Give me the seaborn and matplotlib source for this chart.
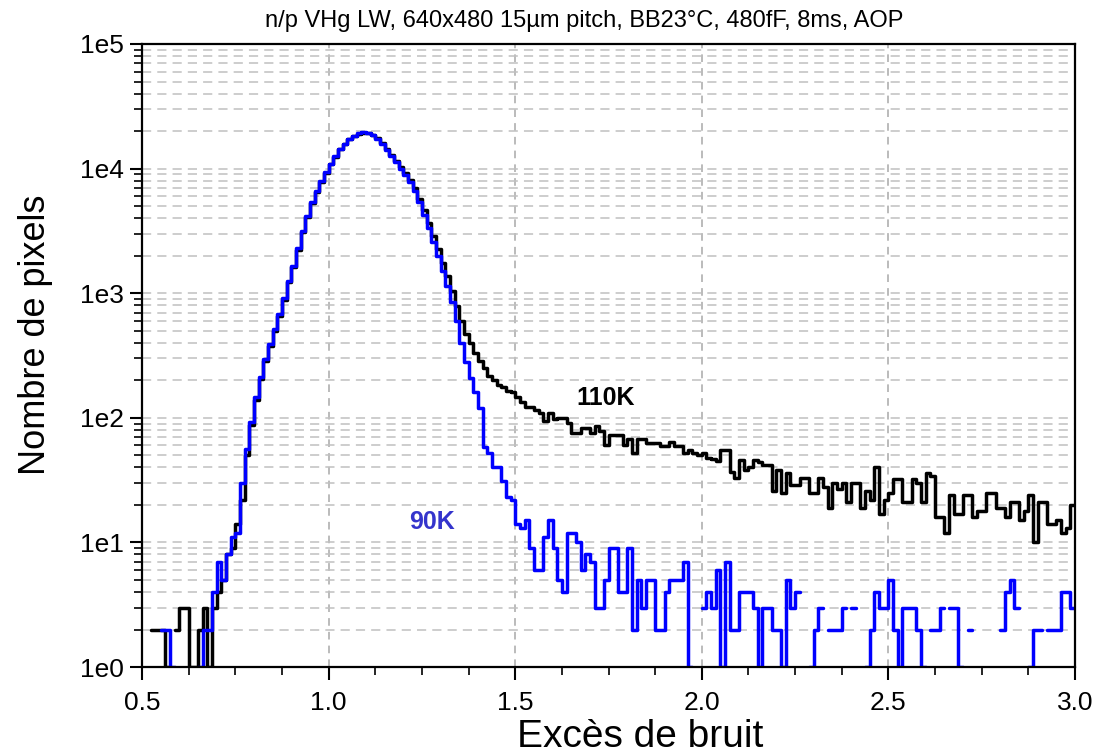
import numpy as np
import pandas as pd
import matplotlib
matplotlib.use("Agg")
import matplotlib.pyplot as plt
from matplotlib.ticker import MultipleLocator, LogLocator, FuncFormatter, NullFormatter
import seaborn as sns

# histogram bins: 0.5 .. 3.0, width 0.0125
x_min, x_max, n_bins = 0.5, 3.0, 200

# pixel counts per bin, 110 K (black)
counts_110k = [
    0, 0, 2, 2, 2, 1, 0, 2, 3, 3,
    1, 1, 2, 3, 1, 3, 4, 5, 8, 9,
    14, 22, 50, 88, 140, 205, 285, 375, 495, 655,
    880, 1220, 1610, 2230, 3080, 4070, 5250, 6470, 7800, 9200,
    10800, 12450, 14300, 15700, 17250, 18300, 19100, 19450, 19300, 18700,
    17550, 16050, 14400, 12900, 11550, 10350, 9300, 8150, 7000, 5750,
    4650, 3650, 2880, 2270, 1760, 1370, 1040, 790, 600, 470,
    400, 330, 285, 250, 215, 200, 185, 178, 165, 160,
    148, 135, 121, 121, 115, 110, 95, 110, 97, 100,
    100, 91, 76, 76, 83, 83, 76, 86, 79, 60,
    73, 73, 73, 60, 68, 52, 67, 67, 63, 63,
    63, 59, 59, 64, 59, 59, 52, 55, 52, 50,
    52, 48, 47, 45, 55, 55, 37, 33, 46, 38,
    40, 46, 44, 42, 42, 26, 38, 25, 36, 29,
    29, 33, 33, 25, 25, 33, 28, 19, 30, 27,
    30, 21, 30, 30, 19, 26, 22, 40, 17, 22,
    25, 32, 32, 21, 21, 32, 30, 21, 36, 34,
    16, 16, 12, 24, 17, 17, 24, 24, 16, 18,
    18, 25, 25, 19, 19, 16, 21, 21, 15, 18,
    24, 10, 21, 21, 14, 14, 15, 12, 13, 20,
]

# pixel counts per bin, 90 K (blue)
counts_90k = [
    0, 0, 0, 0, 2, 2, 1, 0, 0, 0,
    0, 0, 1, 2, 2, 4, 7, 5, 8, 11,
    12, 30, 56, 93, 148, 214, 295, 389, 513, 676,
    912, 1259, 1660, 2291, 3162, 4169, 5370, 6607, 7943, 9333,
    10965, 12589, 14454, 15849, 17378, 18408, 19187, 19498, 19275, 18621,
    17378, 15849, 14125, 12589, 11220, 10000, 8913, 7762, 6607, 5370,
    4266, 3311, 2570, 1995, 1514, 1148, 851, 603, 398, 282,
    209, 160, 120, 58, 52, 40, 40, 31, 23, 22,
    14, 13, 15, 9, 6, 6, 11, 15, 9, 5,
    4, 12, 12, 10, 6, 8, 7, 3, 3, 5,
    9, 9, 4, 4, 9, 2, 5, 3, 5, 5,
    2, 2, 4, 5, 5, 5, 7, 1, 0, 0,
    3, 4, 3, 6, 1, 7, 2, 2, 4, 4,
    4, 3, 1, 3, 3, 2, 2, 1, 5, 3,
    4, 0, 0, 1, 2, 3, 0, 2, 2, 2,
    3, 0, 3, 0, 0, 1, 2, 4, 3, 3,
    5, 2, 1, 3, 3, 3, 2, 1, 0, 2,
    2, 3, 0, 3, 3, 1, 0, 2, 0, 0,
    0, 0, 0, 0, 2, 4, 5, 3, 0, 0,
    1, 2, 2, 0, 2, 2, 2, 4, 4, 3,
]

title = "n/p VHg LW, 640x480 15\u00b5m pitch, BB23\u00b0C, 480fF, 8ms, AOP"
series_labels = ["110K", "90K"]

sns.set_theme(style="ticks")
plt.rcParams["font.family"] = ["Liberation Sans", "DejaVu Sans"]
plt.rcParams["text.color"] = "#000000"

edges = np.linspace(x_min, x_max, n_bins + 1)
centers = (edges[:-1] + edges[1:]) / 2
df = pd.DataFrame({"center": centers, "n110": counts_110k, "n90": counts_90k})

fig = plt.figure(figsize=(11.02, 7.56), dpi=100)
ax = fig.add_axes([0.1289, 0.1177, 0.8466, 0.8241])

sns.histplot(data=df, x="center", weights="n110", bins=list(edges), element="step",
             fill=False, color="#000000", lw=2.5, ax=ax)
sns.histplot(data=df, x="center", weights="n90", bins=list(edges), element="step",
             fill=False, color="#0000ff", lw=2.5, ax=ax)

# zero bins leave gaps, as in the original plot
ax.set_yscale("log", nonpositive="mask")
ax.set_xlim(x_min, x_max)
ax.set_ylim(1, 1e5)
ax.set_xlabel("")
ax.set_ylabel("")

ax.xaxis.set_major_locator(MultipleLocator(0.5))
ax.xaxis.set_minor_locator(MultipleLocator(0.125))
ax.xaxis.set_major_formatter(FuncFormatter(lambda v, _: f"{v:.1f}"))
ax.yaxis.set_major_locator(LogLocator(base=10, numticks=10))
ax.yaxis.set_minor_locator(LogLocator(base=10, subs=range(2, 10), numticks=20))
ax.yaxis.set_major_formatter(FuncFormatter(lambda v, _: f"1e{int(round(np.log10(v)))}"))
ax.yaxis.set_minor_formatter(NullFormatter())

ax.grid(False)
ax.grid(which="major", axis="x", color="#a8a8a8", lw=1.1, ls=(0, (5, 4)))
ax.grid(which="both", axis="y", color="#c0c0c0", lw=1.1, ls=(0, (6, 4)))
ax.set_axisbelow(True)

for side in ["left", "bottom", "top", "right"]:
    ax.spines[side].set_visible(True)
    ax.spines[side].set_color("#000000")
    ax.spines[side].set_linewidth(1.6)

ax.tick_params(which="major", direction="out", length=9, width=1.5,
               labelsize=19, colors="#000000", pad=4)
ax.tick_params(which="minor", direction="out", length=6, width=1.2, colors="#000000")
ax.tick_params(axis="x", which="major", pad=8)

ax.text(1.741, 145, series_labels[0], color="#000000", fontsize=18,
        fontweight="bold", ha="center", va="center")
ax.text(1.277, 14.6, series_labels[1], color="#3434cc", fontsize=18,
        fontweight="bold", ha="center", va="center")

fig.text(584 / 1102, 1 - 21 / 756, title, fontsize=17, ha="center", va="center")
fig.text(640 / 1102, 1 - 737 / 756, "Exc\u00e8s de bruit", fontsize=28,
         ha="center", va="center")
fig.text(36 / 1102, 1 - 335 / 756, "Nombre de pixels", fontsize=26,
         rotation=90, ha="center", va="center")

fig.savefig("out.png", dpi=100)
